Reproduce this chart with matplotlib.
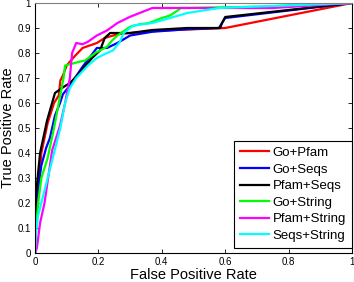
import matplotlib
matplotlib.use('Agg')
import matplotlib.pyplot as plt

plt.rcParams['font.family'] = ['Liberation Sans', 'DejaVu Sans']

# ROC curves (FPR, TPR)
go_pfam_x = [0, 0.005, 0.02, 0.04, 0.06, 0.075, 0.08, 0.088, 0.1, 0.12, 0.15, 0.195, 0.22, 0.26, 0.3, 0.4, 0.5, 0.6, 1.0]
go_pfam_y = [0, 0.15, 0.4, 0.52, 0.6, 0.63, 0.69, 0.71, 0.75, 0.78, 0.82, 0.84, 0.86, 0.875, 0.88, 0.89, 0.895, 0.9, 1.0]

go_seqs_x = [0, 0.003, 0.02, 0.035, 0.047, 0.063, 0.079, 0.088, 0.11, 0.15, 0.195, 0.227, 0.26, 0.3, 0.37, 0.48, 0.58, 0.59, 0.6, 1.0]
go_seqs_y = [0, 0.2, 0.35, 0.42, 0.46, 0.55, 0.6, 0.635, 0.67, 0.745, 0.82, 0.82, 0.84, 0.87, 0.885, 0.895, 0.9, 0.92, 0.94, 1.0]

pfam_seqs_x = [0, 0.002, 0.016, 0.038, 0.063, 0.085, 0.11, 0.126, 0.14, 0.18, 0.205, 0.22, 0.237, 0.3, 0.37, 0.48, 0.584, 0.59, 0.6, 1.0]
pfam_seqs_y = [0, 0.22, 0.4, 0.53, 0.64, 0.66, 0.68, 0.7, 0.72, 0.78, 0.81, 0.86, 0.88, 0.88, 0.892, 0.9, 0.9, 0.92, 0.944, 1.0]

go_string_x = [0, 0.003, 0.01, 0.02, 0.04, 0.06, 0.075, 0.09, 0.095, 0.14, 0.158, 0.19, 0.227, 0.243, 0.26, 0.3, 0.33, 0.36, 0.4, 0.426, 0.45, 0.46, 0.7, 1.0]
go_string_y = [0, 0.1, 0.2, 0.3, 0.38, 0.5, 0.6, 0.7, 0.75, 0.765, 0.77, 0.8, 0.825, 0.85, 0.87, 0.905, 0.915, 0.92, 0.94, 0.95, 0.97, 0.98, 0.985, 1.0]

pfam_string_x = [0, 0.006, 0.016, 0.03, 0.054, 0.079, 0.095, 0.104, 0.11, 0.117, 0.13, 0.15, 0.167, 0.195, 0.227, 0.26, 0.3, 0.33, 0.37, 0.75, 1.0]
pfam_string_y = [0, 0.02, 0.12, 0.2, 0.41, 0.51, 0.6, 0.66, 0.7, 0.8, 0.84, 0.835, 0.845, 0.87, 0.89, 0.92, 0.945, 0.96, 0.98, 0.98, 1.0]

seqs_string_x = [0, 0.003, 0.01, 0.02, 0.04, 0.06, 0.08, 0.095, 0.11, 0.13, 0.167, 0.195, 0.227, 0.246, 0.268, 0.28, 0.31, 0.37, 0.426, 0.48, 0.58, 1.0]
seqs_string_y = [0, 0.08, 0.15, 0.2, 0.3, 0.4, 0.5, 0.6, 0.66, 0.7, 0.75, 0.78, 0.8, 0.81, 0.845, 0.88, 0.91, 0.92, 0.94, 0.96, 0.98, 1.0]

labels = ['Go+Pfam', 'Go+Seqs', 'Pfam+Seqs', 'Go+String', 'Pfam+String', 'Seqs+String']
colors = ['#ff0000', '#0000ff', '#000000', '#00ff00', '#ff00ff', '#00ffff']
curves = [(go_pfam_x, go_pfam_y), (go_seqs_x, go_seqs_y), (pfam_seqs_x, pfam_seqs_y),
          (go_string_x, go_string_y), (pfam_string_x, pfam_string_y), (seqs_string_x, seqs_string_y)]

fig = plt.figure(figsize=(3.54, 2.82), dpi=100)
ax = fig.add_axes([35 / 354, 29 / 282, 317 / 354, 250 / 282])
for (x, y), c, lab in zip(curves, colors, labels):
    ax.plot(x, y, color=c, lw=1.6, label=lab)

ax.set_xlim(0, 1)
ax.set_ylim(0, 1)
ax.set_xticks([0, 0.2, 0.4, 0.6, 0.8, 1])
ax.set_xticklabels(['0', '0.2', '0.4', '0.6', '0.8', '1'])
ax.set_yticks([i / 10 for i in range(11)])
ax.set_yticklabels(['0'] + ['0.%d' % i for i in range(1, 10)] + ['1'])
ax.tick_params(direction='in', length=3, width=0.6, labelsize=7, top=True, right=True, pad=3)
for s in ax.spines.values():
    s.set_linewidth(0.8)
ax.spines['top'].set_color('#808080')
ax.set_xlabel('False Positive Rate', fontsize=10.5, labelpad=0.5)
ax.set_ylabel('True Positive Rate', fontsize=10.5, labelpad=2)

leg = ax.legend(loc='lower right', bbox_to_anchor=(1.0, 0.02), fontsize=9.5, frameon=True,
                fancybox=False, framealpha=1, edgecolor='black', handlelength=2.2,
                handletextpad=0.25, labelspacing=0.33, borderpad=0.45, borderaxespad=0)
leg.get_frame().set_linewidth(0.8)

plt.savefig('out.png', dpi=100)
